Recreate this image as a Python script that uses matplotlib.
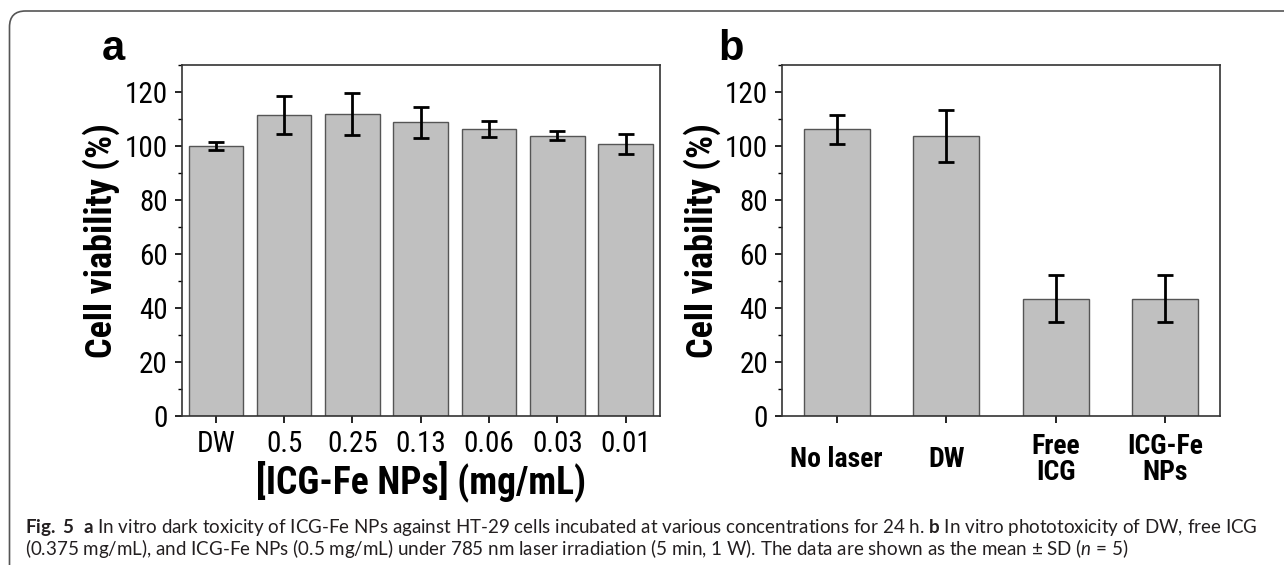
import matplotlib
matplotlib.use("Agg")
import matplotlib.pyplot as plt
from matplotlib import font_manager
from matplotlib.patches import FancyBboxPatch
from matplotlib.transforms import IdentityTransform
from matplotlib.ticker import MultipleLocator

# data
conc_labels = ["DW", "0.5", "0.25", "0.13", "0.06", "0.03", "0.01"]
dark_mean = [100.1, 111.5, 111.8, 108.8, 106.3, 103.8, 100.8]
dark_sd = [1.5, 7.1, 7.7, 5.8, 3.1, 1.7, 3.8]

laser_labels = ["No laser", "DW", "Free\nICG", "ICG-Fe\nNPs"]
laser_mean = [106.2, 103.6, 43.5, 43.5]
laser_sd = [5.3, 9.6, 8.7, 8.8]

y_ticks = [0, 20, 40, 60, 80, 100, 120]

caption1 = (r"$\mathbf{Fig.\ 5}$  $\mathbf{a}$ In vitro dark toxicity of ICG-Fe NPs against HT-29 cells "
            r"incubated at various concentrations for 24 h. $\mathbf{b}$ In vitro phototoxicity of DW, free ICG")
caption2 = (r"(0.375 mg/mL), and ICG-Fe NPs (0.5 mg/mL) under 785 nm laser irradiation (5 min, 1 W). "
            r"The data are shown as the mean ± SD ($n$ = 5)")

# pick a condensed sans if one is there
names = {f.name for f in font_manager.fontManager.ttflist}
narrow = "Liberation Sans"
for n in ["Liberation Sans Narrow", "Arial Narrow", "Roboto Condensed", "DejaVu Sans Condensed"]:
    if n in names:
        narrow = n
        break

plt.rcParams["font.family"] = [narrow, "DejaVu Sans"]
plt.rcParams["mathtext.fontset"] = "custom"
plt.rcParams["mathtext.rm"] = "Lato"
plt.rcParams["mathtext.bf"] = "Lato:bold"
plt.rcParams["mathtext.it"] = "Lato:italic"

W, H = 1284, 565
fig = plt.figure(figsize=(W / 100, H / 100), dpi=100)

bar_kw = dict(color="#c0c0c0", edgecolor="#555555", linewidth=1.0)
err_kw = dict(fmt="none", ecolor="black", elinewidth=2.0, capsize=5.8, capthick=2.0)


def panel(rect, labels, mean, sd, width, bold_x):
    ax = fig.add_axes(rect)
    x = range(len(labels))
    ax.bar(x, mean, width=width, zorder=2, **bar_kw)
    ax.errorbar(x, mean, yerr=sd, zorder=3, **err_kw)
    ax.set_xlim(-0.5, len(labels) - 0.5)
    ax.set_ylim(0, 130)
    ax.set_yticks(y_ticks)
    ax.yaxis.set_minor_locator(MultipleLocator(10))
    ax.set_xticks(list(x))
    for s in ax.spines.values():
        s.set_linewidth(1.2)
        s.set_color("#333333")
    ax.tick_params(axis="both", which="major", direction="out", length=5, width=1.2,
                   labelsize=21, pad=5)
    ax.tick_params(axis="y", which="minor", direction="out", length=3, width=1.0)
    if bold_x:
        ax.set_xticklabels(labels, fontsize=20, fontweight="bold", linespacing=0.95)
        ax.tick_params(axis="x", pad=26)
        for t in ax.get_xticklabels():
            t.set_verticalalignment("center")
    else:
        ax.set_xticklabels(labels, fontsize=21)
    ax.set_ylabel("Cell viability (%)", fontsize=26, fontweight="bold", va="center")
    return ax


ax_a = panel([181.7 / W, 1 - 416 / H, 478 / W, 351 / H], conc_labels, dark_mean, dark_sd, 0.8, False)
ax_a.yaxis.set_label_coords(-0.168, 0.5)
ax_a.set_xlabel("[ICG-Fe NPs] (mg/mL)", fontsize=27, fontweight="bold", va="center")
ax_a.xaxis.set_label_coords(0.5, -0.185)

ax_b = panel([782 / W, 1 - 416 / H, 438 / W, 351 / H], laser_labels, laser_mean, laser_sd, 0.6, True)
ax_b.yaxis.set_label_coords(-0.182, 0.5)

fig.text(102 / W, 1 - 60 / H, "a", fontsize=30, fontweight="bold", family="Liberation Sans", va="baseline")
fig.text(718 / W, 1 - 60 / H, "b", fontsize=30, fontweight="bold", family="Liberation Sans", va="baseline")

fig.text(25 / W, 32 / H, caption1, fontsize=13.5, family="Lato", color="#231f20", va="baseline")
fig.text(25 / W, 10 / H, caption2, fontsize=13.5, family="Lato", color="#231f20", va="baseline")

# rounded frame, cut off by the right and bottom edges
frame = FancyBboxPatch((9.5, -40), W + 60, H - 11 + 40, boxstyle="round,pad=0,rounding_size=16",
                       transform=IdentityTransform(), fill=False, edgecolor="#555555", linewidth=1.2)
fig.add_artist(frame)

fig.savefig("out.png", dpi=100)
